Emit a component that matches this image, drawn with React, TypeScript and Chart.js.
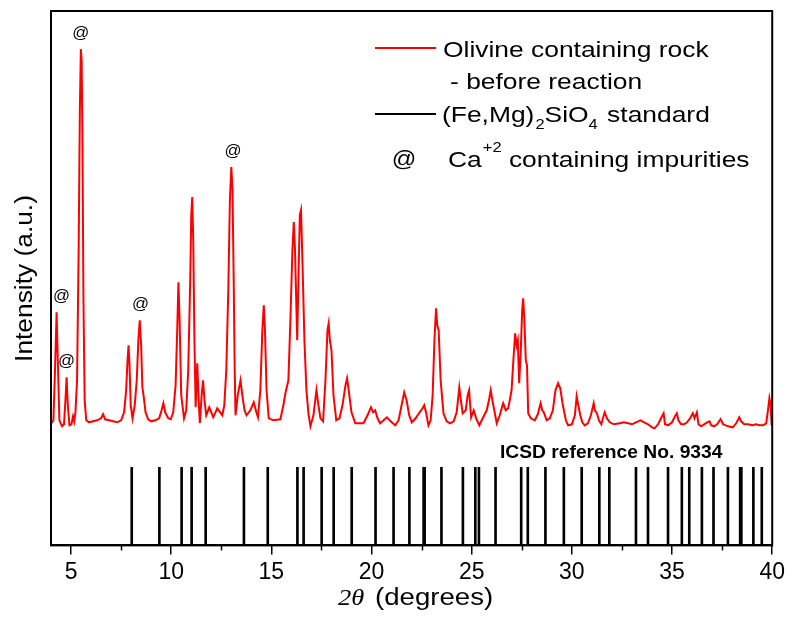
import React, { useEffect, useRef } from "react";
import { Chart, registerables } from "chart.js";

Chart.register(...registerables);

// Measured XRD pattern (2θ in degrees, intensity in arbitrary units incl. stacking offset)
const twoTheta = [
  4.02, 4.12, 4.2, 4.28, 4.34, 4.42, 4.55, 4.65, 4.72, 4.78, 4.84, 4.92, 5.02, 5.1, 5.16, 5.22, 5.3, 5.38, 5.44, 5.49,
  5.53, 5.57, 5.62, 5.68, 5.76, 5.9, 6.1, 6.3, 6.5, 6.6, 6.7, 6.9, 7.1, 7.3, 7.5, 7.65, 7.75, 7.82, 7.87, 7.92,
  7.98, 8.07, 8.18, 8.28, 8.36, 8.43, 8.5, 8.56, 8.62, 8.72, 8.85, 9.0, 9.2, 9.4, 9.52, 9.61, 9.7, 9.85, 9.98, 10.1,
  10.22, 10.3, 10.36, 10.42, 10.5, 10.64, 10.75, 10.85, 10.95, 11.0, 11.05, 11.1, 11.16, 11.22, 11.3, 11.37, 11.43, 11.52, 11.59, 11.66,
  11.75, 11.9, 12.1, 12.3, 12.55, 12.65, 12.75, 12.85, 12.93, 13.0, 13.06, 13.12, 13.17, 13.21, 13.32, 13.46, 13.55, 13.66, 13.76, 13.95,
  14.12, 14.25, 14.33, 14.45, 14.55, 14.62, 14.68, 14.76, 14.87, 15.1, 15.45, 15.6, 15.7, 15.85, 15.95, 16.05, 16.12, 16.18, 16.24, 16.29,
  16.35, 16.42, 16.48, 16.55, 16.65, 16.75, 16.85, 16.95, 17.1, 17.25, 17.35, 17.45, 17.58, 17.7, 17.8, 17.86, 17.92, 18.0, 18.1, 18.24,
  18.4, 18.55, 18.7, 18.78, 18.86, 19.0, 19.19, 19.4, 19.6, 19.8, 19.97, 20.08, 20.18, 20.3, 20.43, 20.6, 20.77, 20.95, 21.18, 21.35,
  21.5, 21.63, 21.75, 21.88, 22.01, 22.2, 22.4, 22.55, 22.63, 22.72, 22.84, 22.95, 23.05, 23.14, 23.22, 23.28, 23.35, 23.45, 23.59, 23.75,
  23.92, 24.1, 24.25, 24.38, 24.46, 24.55, 24.7, 24.8, 24.87, 24.97, 25.1, 25.22, 25.38, 25.55, 25.75, 25.88, 25.95, 26.05, 26.25, 26.4,
  26.57, 26.7, 26.82, 26.9, 26.99, 27.08, 27.17, 27.24, 27.3, 27.37, 27.45, 27.52, 27.57, 27.63, 27.7, 27.76, 27.82, 27.95, 28.15, 28.3,
  28.44, 28.52, 28.6, 28.74, 28.9, 29.05, 29.18, 29.31, 29.42, 29.55, 29.7, 29.81, 30.0, 30.15, 30.24, 30.32, 30.42, 30.52, 30.64, 30.8,
  30.95, 31.09, 31.15, 31.25, 31.35, 31.47, 31.55, 31.64, 31.75, 31.89, 32.1, 32.39, 32.6, 32.8, 33.0, 33.2, 33.42, 33.6, 33.8, 34.0,
  34.13, 34.3, 34.45, 34.58, 34.65, 34.8, 35.0, 35.15, 35.24, 35.32, 35.45, 35.6, 35.75, 35.9, 36.04, 36.12, 36.24, 36.32, 36.45, 36.6,
  36.75, 36.87, 36.95, 37.1, 37.25, 37.42, 37.55, 37.8, 38.03, 38.2, 38.36, 38.45, 38.6, 38.8, 39.0, 39.2, 39.36, 39.55, 39.7, 39.8,
  39.86, 39.92, 39.97,
];

const intensity = [
  122, 125, 175, 233, 185, 125, 119, 121, 145, 168, 140, 120, 121, 129, 124, 133, 165, 295, 435, 496,
  485, 405, 245, 145, 125, 123, 124, 125, 127, 131, 126, 125, 124, 123, 125, 133, 155, 185, 200, 180,
  140, 127, 140, 165, 205, 225, 200, 158, 150, 133, 126, 124, 125, 127, 135, 142, 133, 127, 126, 133,
  160, 215, 263, 225, 150, 127, 135, 175, 265, 330, 348, 305, 205, 138, 182, 145, 122, 150, 165, 145,
  130, 138, 128, 137, 130, 140, 175, 255, 345, 378, 355, 265, 175, 130, 150, 165, 150, 135, 130, 135,
  143, 133, 128, 155, 215, 240, 215, 155, 127, 125, 126, 140, 152, 165, 225, 295, 323, 295, 245, 205,
  265, 330, 335, 285, 205, 155, 132, 119, 130, 155, 140, 127, 124, 165, 215, 222, 205, 195, 150, 125,
  127, 140, 160, 167, 155, 133, 122, 122, 122, 130, 138, 133, 135, 127, 122, 125, 128, 124, 120, 125,
  140, 153, 145, 130, 123, 127, 133, 137, 140, 133, 120, 125, 150, 205, 237, 220, 215, 165, 132, 124,
  122, 124, 133, 158, 145, 132, 135, 150, 155, 128, 135, 127, 120, 127, 135, 147, 155, 143, 122, 130,
  142, 135, 137, 145, 155, 185, 212, 200, 205, 162, 195, 235, 247, 225, 185, 180, 132, 127, 125, 131,
  142, 135, 133, 125, 127, 135, 155, 162, 157, 140, 125, 120, 121, 130, 149, 140, 130, 123, 120, 122,
  130, 142, 135, 132, 125, 121, 127, 133, 127, 123, 121, 122, 123, 122, 121, 123, 125, 123, 121, 118,
  117, 121, 127, 132, 121, 120, 123, 129, 132, 125, 121, 121, 123, 127, 132, 127, 133, 121, 119, 121,
  123, 124, 120, 119, 121, 126, 121, 119, 118, 122, 128, 124, 121, 121, 120, 121, 120, 120, 122, 137,
  147, 140, 120,
];

// ICSD No. 9334 (Fe,Mg)2SiO4 reference reflections (2θ, degrees)
const stickPositions = [
  8.03, 9.41, 10.52, 11.02, 11.72, 13.63, 14.82, 16.3, 16.61, 17.51, 18.11, 19.01, 20.2, 21.1, 21.89,
  22.6, 22.65, 23.49, 24.56, 25.18, 25.36, 26.19, 27.47, 27.8, 28.68, 29.6, 30.49, 31.37, 31.87,
  33.2, 33.8, 34.8, 35.49, 35.86, 36.49, 37.07, 37.79, 38.4, 38.46, 39.06, 39.48,
];
const stickHeight = 78;

// Ca2+ impurity marks: 2θ of the "@" label and the intensity of the peak it marks
const impurityAt = [5.49, 4.53, 4.78, 8.47, 13.08];
const impurityPeak = [496, 233, 168, 225, 378];

const xTicks = [5, 10, 15, 20, 25, 30, 35, 40];
const minorTicks = [7.5, 12.5, 17.5, 22.5, 27.5, 32.5, 37.5];
const xMin = 4;
const xMax = 40;
const yMax = 534;

const SANS = "'Liberation Sans', Arial, sans-serif";
const SERIF = "'Liberation Serif', 'Times New Roman', serif";

function drawText(
  ctx: CanvasRenderingContext2D,
  s: string,
  x: number,
  y: number,
  font: string,
  sx = 1,
  align: "left" | "center" = "left"
): number {
  ctx.save();
  ctx.font = font;
  const w = ctx.measureText(s).width * sx;
  const x0 = align === "center" ? x - w / 2 : x;
  ctx.translate(x0, y);
  ctx.scale(sx, 1);
  ctx.textAlign = "left";
  ctx.textBaseline = "alphabetic";
  ctx.fillStyle = "#000";
  ctx.fillText(s, 0, 0);
  ctx.restore();
  return w;
}

const decorPlugin = {
  id: "decor",
  afterDatasetsDraw(chart: any) {
    const ctx: CanvasRenderingContext2D = chart.ctx;
    const xs = chart.scales.x;
    const ys = chart.scales.y;
    ctx.save();
    // impurity "@" marks
    impurityAt.forEach((a, i) => {
      const px = xs.getPixelForValue(a);
      const py = ys.getPixelForValue(impurityPeak[i]) - 11;
      drawText(ctx, "@", px, py, `16px ${SANS}`, 1.05, "center");
    });
    ctx.restore();
  },
  afterDraw(chart: any) {
    const ctx: CanvasRenderingContext2D = chart.ctx;
    const { left, top, right, bottom } = chart.chartArea;
    const xs = chart.scales.x;
    ctx.save();
    // frame
    ctx.strokeStyle = "#000";
    ctx.lineWidth = 2;
    ctx.strokeRect(left, top, right - left, bottom - top);
    // minor ticks
    ctx.lineWidth = 1.5;
    minorTicks.forEach((v) => {
      const px = Math.round(xs.getPixelForValue(v)) + 0.5;
      ctx.beginPath();
      ctx.moveTo(px, bottom);
      ctx.lineTo(px, bottom + 5);
      ctx.stroke();
    });

    // legend
    ctx.lineWidth = 2;
    ctx.strokeStyle = "#ff0000";
    ctx.beginPath();
    ctx.moveTo(375, 48);
    ctx.lineTo(436, 48);
    ctx.stroke();
    ctx.strokeStyle = "#000";
    ctx.beginPath();
    ctx.moveTo(375, 114);
    ctx.lineTo(436, 114);
    ctx.stroke();

    const lf = `22px ${SANS}`;
    const sf = `15px ${SANS}`;
    const lsx = 1.2;
    drawText(ctx, "Olivine containing rock", 443, 57, lf, lsx);
    drawText(ctx, "- before reaction", 450, 89, lf, lsx);
    let cx = 442;
    cx += drawText(ctx, "(Fe,Mg)", cx, 122, lf, lsx);
    cx += drawText(ctx, "2", cx + 1, 129, sf, 1.1) + 1;
    cx += drawText(ctx, "SiO", cx, 122, lf, lsx);
    cx += drawText(ctx, "4", cx, 129, sf, 1.1);
    drawText(ctx, " standard", cx + 2, 122, lf, lsx);
    drawText(ctx, "@", 404, 166, `22px ${SANS}`, 1.1, "center");
    cx = 448;
    cx += drawText(ctx, "Ca", cx, 167, lf, lsx);
    cx += drawText(ctx, "+2", cx + 1, 152, sf, 1.1) + 1;
    drawText(ctx, " containing impurities", cx, 167, lf, lsx);

    // reference label
    drawText(ctx, "ICSD reference No. 9334", 500, 458, `bold 18.5px ${SANS}`, 1.04);

    // x title
    drawText(ctx, "2θ", 338, 605, `italic 23px ${SERIF}`, 1.15);
    drawText(ctx, "(degrees)", 375, 605, `23px ${SANS}`, 1.2);

    // y title
    ctx.save();
    ctx.translate(31.5, 278.5);
    ctx.rotate(-Math.PI / 2);
    drawText(ctx, "Intensity (a.u.)", 0, 0, `23px ${SANS}`, 1.145, "center");
    ctx.restore();

    ctx.restore();
  },
};

export default function App() {
  const canvasRef = useRef<HTMLCanvasElement | null>(null);

  useEffect(() => {
    document.body.style.margin = "0";
    const canvas = canvasRef.current;
    if (!canvas) return;
    const chart = new Chart(canvas, {
      type: "line",
      data: {
        datasets: [
          {
            type: "line",
            label: "Olivine containing rock - before reaction",
            data: twoTheta.map((x, i) => ({ x, y: intensity[i] })),
            borderColor: "#ff0000",
            borderWidth: 2,
            pointRadius: 0,
            tension: 0,
            fill: false,
          } as any,
          {
            type: "bar",
            label: "(Fe,Mg)2SiO4 standard",
            data: stickPositions.map((x) => ({ x, y: stickHeight })),
            backgroundColor: "#000",
            borderWidth: 0,
            barThickness: 2,
            grouped: false,
          } as any,
        ],
      },
      options: {
        animation: false,
        responsive: true,
        maintainAspectRatio: false,
        parsing: true,
        layout: { padding: { left: 51, right: 16, top: 11, bottom: 29 } },
        plugins: {
          legend: { display: false },
          tooltip: { enabled: false },
        },
        scales: {
          x: {
            type: "linear",
            min: xMin,
            max: xMax,
            offset: false,
            afterBuildTicks: (scale: any) => {
              scale.ticks = xTicks.map((v) => ({ value: v }));
            },
            ticks: {
              color: "#000",
              font: { family: SANS, size: 23 },
              padding: 4,
              maxRotation: 0,
              autoSkip: false,
            },
            grid: {
              offset: false,
              drawOnChartArea: false,
              drawTicks: true,
              tickLength: 9,
              color: "#000",
              lineWidth: 1.5,
            },
            border: { display: true, color: "#000", width: 2 },
          },
          y: {
            type: "linear",
            display: false,
            min: 0,
            max: yMax,
          },
        },
      } as any,
      plugins: [decorPlugin],
    });
    return () => chart.destroy();
  }, []);

  return (
    <div style={{ position: "relative", width: 789, height: 619, background: "#fff" }}>
      <canvas ref={canvasRef} />
    </div>
  );
}
